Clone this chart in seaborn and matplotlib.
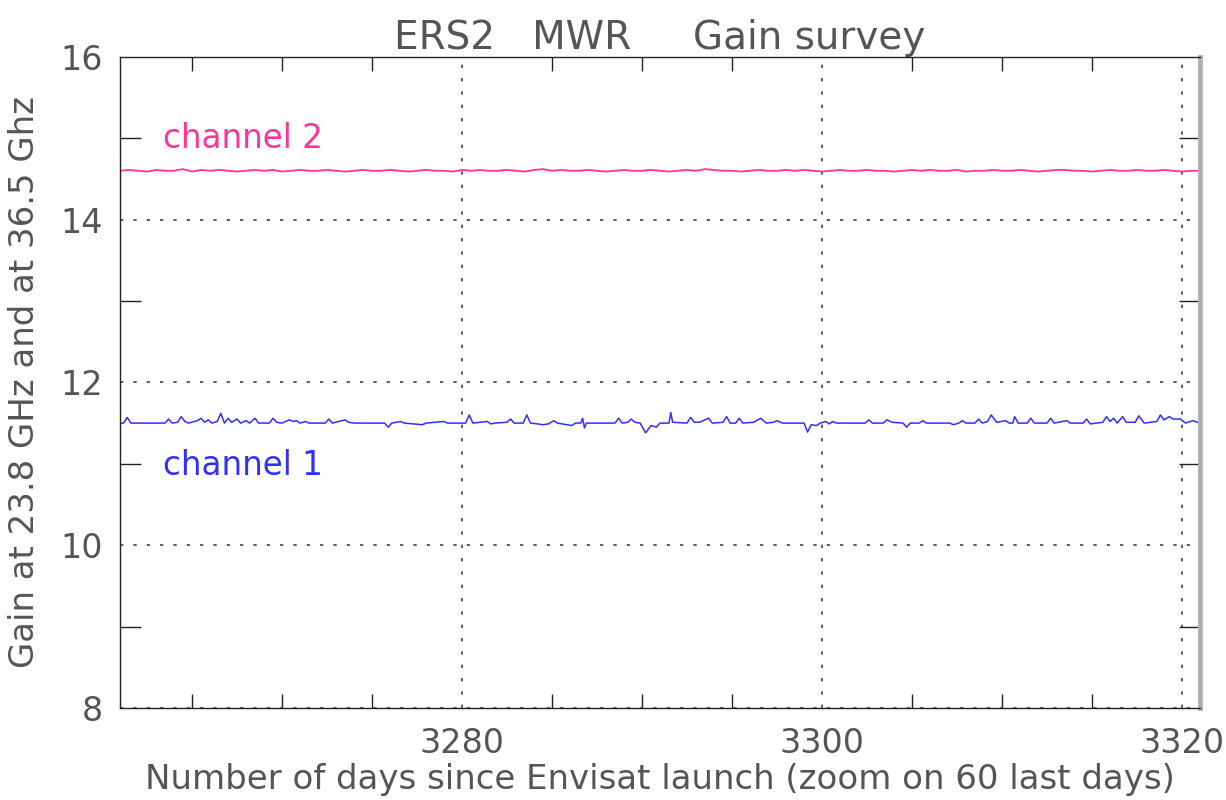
import matplotlib
matplotlib.use("Agg")
import matplotlib.pyplot as plt
from matplotlib.ticker import MultipleLocator, FixedLocator
import seaborn as sns
import pandas as pd

# ---------------- data ----------------
title = "ERS2   MWR     Gain survey"
xlabel = "Number of days since Envisat launch (zoom on 60 last days)"
ylabel = "Gain at 23.8 GHz and at 36.5 Ghz"
x_tick_values = [3280, 3300, 3320]
y_tick_values = [8, 10, 12, 14, 16]

# channel 1 (23.8 GHz)
ch1_days = [3261.0, 3261.2, 3261.4, 3261.6, 3263.5, 3263.7, 3263.9, 3264.2, 3264.4, 3264.6,
            3264.8, 3265.3, 3265.5, 3265.7, 3265.9, 3266.1, 3266.4, 3266.6, 3266.8, 3267.0,
            3267.2, 3267.5, 3267.7, 3268.0, 3268.2, 3268.5, 3268.7, 3269.3, 3269.5, 3269.7,
            3270.0, 3270.4, 3270.6, 3270.8, 3271.0, 3271.3, 3271.5, 3272.4, 3272.6, 3272.8,
            3273.5, 3273.7, 3274.0, 3275.7, 3275.9, 3276.1, 3276.6, 3276.8, 3277.8, 3278.0,
            3279.0, 3279.2, 3280.2, 3280.4, 3280.6, 3281.4, 3281.6, 3281.8, 3282.5, 3282.7,
            3282.9, 3283.4, 3283.6, 3283.8, 3284.2, 3284.5, 3284.8, 3285.1, 3285.3, 3286.1,
            3286.3, 3286.6, 3286.7, 3286.8, 3286.9, 3288.5, 3288.7, 3288.9, 3289.2, 3289.4,
            3289.6, 3289.9, 3290.2, 3290.5, 3290.8, 3291.0, 3291.5, 3291.6, 3291.7, 3292.5,
            3292.7, 3292.9, 3293.2, 3293.7, 3293.9, 3294.5, 3294.7, 3294.9, 3295.2, 3295.4,
            3295.6, 3296.2, 3296.6, 3296.9, 3297.3, 3297.5, 3297.8, 3299.0, 3299.2, 3299.4,
            3299.7, 3299.9, 3300.2, 3300.4, 3300.6, 3300.8, 3302.4, 3302.6, 3302.8, 3303.4,
            3303.6, 3303.9, 3304.5, 3304.7, 3304.9, 3305.4, 3305.6, 3305.8, 3307.1, 3307.3,
            3307.6, 3307.8, 3308.0, 3308.5, 3308.7, 3308.9, 3309.2, 3309.4, 3309.7, 3310.2,
            3310.4, 3310.6, 3310.7, 3310.9, 3311.4, 3311.6, 3311.8, 3312.5, 3312.7, 3312.9,
            3313.6, 3313.8, 3314.5, 3314.7, 3314.9, 3315.6, 3315.8, 3316.0, 3316.2, 3316.4,
            3316.7, 3316.9, 3317.4, 3317.6, 3317.9, 3318.6, 3318.8, 3319.0, 3319.3, 3319.5,
            3319.9, 3320.2, 3320.6, 3321.0]
ch1_gain = [11.50, 11.50, 11.57, 11.50, 11.50, 11.55, 11.50, 11.51, 11.58, 11.52,
            11.50, 11.53, 11.56, 11.51, 11.54, 11.50, 11.52, 11.62, 11.50, 11.56,
            11.51, 11.55, 11.50, 11.53, 11.50, 11.56, 11.50, 11.50, 11.56, 11.51,
            11.50, 11.54, 11.52, 11.53, 11.50, 11.52, 11.50, 11.50, 11.55, 11.50,
            11.54, 11.51, 11.50, 11.50, 11.45, 11.50, 11.52, 11.50, 11.48, 11.50,
            11.52, 11.50, 11.50, 11.60, 11.50, 11.52, 11.49, 11.50, 11.51, 11.55,
            11.50, 11.50, 11.60, 11.50, 11.49, 11.48, 11.49, 11.53, 11.50, 11.47,
            11.50, 11.50, 11.56, 11.44, 11.50, 11.50, 11.56, 11.50, 11.51, 11.55,
            11.51, 11.50, 11.38, 11.47, 11.45, 11.50, 11.50, 11.63, 11.51, 11.50,
            11.57, 11.51, 11.51, 11.56, 11.50, 11.51, 11.58, 11.50, 11.50, 11.56,
            11.50, 11.51, 11.56, 11.50, 11.51, 11.53, 11.50, 11.50, 11.39, 11.48,
            11.47, 11.50, 11.52, 11.49, 11.52, 11.50, 11.50, 11.54, 11.50, 11.50,
            11.54, 11.51, 11.50, 11.45, 11.50, 11.50, 11.53, 11.50, 11.50, 11.48,
            11.50, 11.53, 11.50, 11.50, 11.55, 11.50, 11.52, 11.60, 11.51, 11.53,
            11.50, 11.50, 11.58, 11.50, 11.50, 11.56, 11.50, 11.50, 11.56, 11.50,
            11.53, 11.50, 11.50, 11.55, 11.49, 11.51, 11.58, 11.52, 11.56, 11.50,
            11.58, 11.51, 11.51, 11.59, 11.50, 11.52, 11.60, 11.54, 11.58, 11.55,
            11.55, 11.50, 11.53, 11.50]

# channel 2 (36.5 GHz), every half day
ch2_days = [3261.0 + 0.5 * i for i in range(121)]
ch2_gain = [14.60, 14.61, 14.60, 14.59, 14.61, 14.60, 14.60, 14.62, 14.59, 14.61,
            14.60, 14.61, 14.60, 14.59, 14.60, 14.61, 14.60, 14.61, 14.59, 14.60,
            14.61, 14.60, 14.60, 14.61, 14.60, 14.59, 14.60, 14.61, 14.60, 14.60,
            14.61, 14.60, 14.59, 14.60, 14.61, 14.60, 14.60, 14.59, 14.61, 14.60,
            14.61, 14.60, 14.60, 14.61, 14.60, 14.59, 14.61, 14.62, 14.60, 14.61,
            14.60, 14.60, 14.61, 14.60, 14.59, 14.60, 14.61, 14.60, 14.60, 14.61,
            14.60, 14.59, 14.60, 14.61, 14.60, 14.62, 14.61, 14.60, 14.60, 14.59,
            14.60, 14.61, 14.60, 14.60, 14.61, 14.60, 14.61, 14.60, 14.59, 14.60,
            14.61, 14.60, 14.60, 14.61, 14.60, 14.60, 14.59, 14.60, 14.61, 14.60,
            14.61, 14.60, 14.60, 14.61, 14.59, 14.60, 14.60, 14.61, 14.60, 14.60,
            14.61, 14.60, 14.59, 14.60, 14.61, 14.61, 14.60, 14.60, 14.59, 14.60,
            14.61, 14.60, 14.60, 14.61, 14.60, 14.60, 14.61, 14.60, 14.59, 14.60,
            14.60]

ch1_name = "channel 1"
ch2_name = "channel 2"

# ---------------- styling ----------------
sns.set_theme(style="white")
plt.rcParams['font.family'] = ['DejaVu Sans']
text_color = "#555555"
blue = "#3030ff"
pink = "#ff3399"

df1 = pd.DataFrame({"day": ch1_days, "gain": ch1_gain})
df2 = pd.DataFrame({"day": ch2_days, "gain": ch2_gain})

fig = plt.figure(figsize=(12.26, 8.0), dpi=100)
ax = fig.add_axes([0.0979, 0.115, 0.8809, 0.814])

sns.lineplot(data=df2, x="day", y="gain", ax=ax, color=pink, linewidth=1.3, estimator=None)
sns.lineplot(data=df1, x="day", y="gain", ax=ax, color=blue, linewidth=1.1, estimator=None)

ax.set_xlim(3261, 3321)
ax.set_ylim(8, 16)

ax.xaxis.set_major_locator(FixedLocator(x_tick_values))
ax.xaxis.set_minor_locator(MultipleLocator(5))
ax.yaxis.set_major_locator(FixedLocator(y_tick_values))
ax.yaxis.set_minor_locator(MultipleLocator(1))

ax.tick_params(axis="both", which="both", direction="in", colors="#222222",
               labelcolor=text_color, labelsize=24,
               top=True, right=True, bottom=True, left=True)
ax.tick_params(axis="x", which="major", length=0, pad=14)
ax.tick_params(axis="x", which="minor", length=10, width=1)
ax.tick_params(axis="y", which="major", length=0, pad=12)
ax.tick_params(axis="y", which="minor", length=15, width=1)

ax.grid(True, which="major", linestyle=(0, (2, 6)), color="#444444", linewidth=1.2)

for side in ["left", "bottom", "top"]:
    ax.spines[side].set_color("#222222")
    ax.spines[side].set_linewidth(1.0)
ax.spines["right"].set_color("#b0b0b0")
ax.spines["right"].set_linewidth(3.5)

ax.set_xlabel(xlabel, fontsize=24.5, color=text_color, labelpad=2)
ax.set_ylabel(ylabel, fontsize=24.5, color=text_color, labelpad=14)
ax.set_title(title, fontsize=28, color=text_color, pad=4)

ax.text(3263.4, 15.0, ch2_name, color=pink, fontsize=23.5, va="center", ha="left")
ax.text(3263.4, 10.98, ch1_name, color=blue, fontsize=23.5, va="center", ha="left")

fig.savefig("out.png", dpi=100, facecolor="white")
